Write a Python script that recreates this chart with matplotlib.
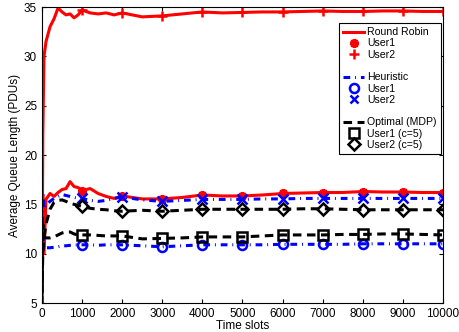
import numpy as np
import matplotlib
matplotlib.use("Agg")
import matplotlib.pyplot as plt
from matplotlib.lines import Line2D

plt.rcParams['font.family'] = ['Liberation Sans', 'DejaVu Sans']

# time grid of the running averages
t = [0, 20, 50, 100, 200, 300, 400, 500, 600, 700, 800, 900, 1000, 1200, 1400,
     1600, 1800, 2000, 2500, 3000, 3500, 4000, 4500, 5000, 5500, 6000, 6500,
     7000, 7500, 8000, 8500, 9000, 9500, 10000]

rr_user1 = [5, 16, 10, 15.5, 16.1, 15.8, 16.2, 16.5, 16.6, 17.3, 16.8, 16.7, 16.4,
            16.6, 16.1, 15.8, 15.6, 15.85, 15.55, 15.55, 15.7, 15.95, 15.85, 15.85,
            15.95, 16.1, 16.15, 16.2, 16.2, 16.3, 16.25, 16.25, 16.2, 16.2]
rr_user2 = [5, 22, 30, 31.5, 33.0, 33.8, 34.9, 34.5, 34.2, 34.3, 33.9, 34.2, 34.7,
            34.4, 34.3, 34.4, 34.2, 34.4, 34.0, 34.1, 34.3, 34.5, 34.4, 34.45,
            34.5, 34.5, 34.55, 34.6, 34.55, 34.55, 34.6, 34.6, 34.55, 34.55]
heu_user1 = [5, 12, 10.5, 10.6, 10.6, 10.65, 10.7, 10.8, 10.8, 10.85, 10.9, 10.9, 10.9,
             10.9, 10.85, 10.9, 10.9, 10.9, 10.8, 10.7, 10.8, 10.9, 10.9, 10.9,
             10.9, 10.95, 10.95, 10.95, 10.95, 11.0, 11.0, 11.0, 11.0, 11.0]
heu_user2 = [6, 16, 14.5, 15.0, 15.3, 15.6, 15.8, 16.0, 15.9, 15.8, 15.7, 15.6, 15.6,
             15.4, 15.3, 15.4, 15.6, 15.75, 15.45, 15.3, 15.4, 15.5, 15.5, 15.5,
             15.55, 15.55, 15.6, 15.6, 15.6, 15.6, 15.6, 15.6, 15.6, 15.6]
opt_user1 = [7, 13, 11.7, 11.6, 11.6, 11.7, 11.9, 12.1, 12.2, 12.2, 12.0, 11.9, 11.9,
             11.9, 11.85, 11.8, 11.8, 11.8, 11.5, 11.55, 11.6, 11.7, 11.7, 11.7,
             11.8, 11.9, 11.9, 11.9, 11.95, 11.95, 12.0, 12.0, 11.95, 11.9]
opt_user2 = [6, 10, 11.5, 13.0, 14.5, 15.2, 15.4, 15.45, 15.3, 15.1, 15.0, 14.9, 14.8,
             14.6, 14.5, 14.45, 14.35, 14.3, 14.4, 14.3, 14.4, 14.5, 14.5, 14.5,
             14.5, 14.5, 14.55, 14.55, 14.5, 14.45, 14.45, 14.45, 14.45, 14.45]

marker_t = [1000, 2000, 3000, 4000, 5000, 6000, 7000, 8000, 9000, 10000]

t = np.array(t)
mk = np.isin(t, marker_t)

fig = plt.figure(figsize=(4.59, 3.32), dpi=100)
ax = fig.add_axes([0.0915, 0.0873, 0.8736, 0.8916])

lw = 2.2
heu_dash = (2.2, 1.6, 0.3, 1.6)
opt_dash = (2.8, 1.8)
series = [
    (rr_user1, 'r', None, (8, 2, 0)),
    (rr_user2, 'r', None, '+'),
    (heu_user1, 'b', heu_dash, 'o'),
    (heu_user2, 'b', heu_dash, 'x'),
    (opt_user1, 'k', opt_dash, 's'),
    (opt_user2, 'k', opt_dash, 'D'),
]
for vals, c, dash, m in series:
    v = np.array(vals)
    ln, = ax.plot(t, v, color=c, lw=lw)
    if dash:
        ln.set_dashes(dash)
    ax.plot(t[mk], v[mk], ls='none', marker=m, ms=6.5, mec=c, mfc='none', mew=1.8)

ax.set_xlim(0, 10000)
ax.set_ylim(5, 35)
ax.set_xticks(np.arange(0, 10001, 1000))
ax.set_yticks(np.arange(5, 36, 5))
ax.tick_params(direction='in', top=True, right=True, labelsize=8.5, length=3)
ax.set_xlabel('Time slots', fontsize=8.5, labelpad=0)
ax.set_ylabel('Average Queue Length (PDUs)', fontsize=8.5, labelpad=2)

blank = Line2D([], [], ls='none')
handles = [
    Line2D([], [], color='r', ls='-', lw=lw),
    Line2D([], [], color='r', ls='none', marker=(8, 2, 0), ms=6.5, mew=1.8),
    Line2D([], [], color='r', ls='none', marker='+', ms=6.5, mew=1.8),
    blank,
    Line2D([], [], color='b', lw=lw, dashes=heu_dash),
    Line2D([], [], color='b', ls='none', marker='o', ms=6.5, mew=1.8, mfc='none'),
    Line2D([], [], color='b', ls='none', marker='x', ms=5.5, mew=1.8),
    blank,
    Line2D([], [], color='k', lw=lw, dashes=opt_dash),
    Line2D([], [], color='k', ls='none', marker='s', ms=6.5, mew=1.8, mfc='none'),
    Line2D([], [], color='k', ls='none', marker='D', ms=6.5, mew=1.8, mfc='none'),
]
labels = ['Round Robin', 'User1', 'User2', ' ', 'Heuristic', 'User1', 'User2', ' ',
          'Optimal (MDP)', 'User1 (c=5)', 'User2 (c=5)']
leg = ax.legend(handles, labels, loc='upper right', bbox_to_anchor=(0.995, 0.946),
                fontsize=7.6, fancybox=False, edgecolor='k', framealpha=1,
                handlelength=2.0, handletextpad=0.3, labelspacing=0.12,
                borderpad=0.4, borderaxespad=0)
leg.get_frame().set_linewidth(0.8)

fig.savefig('out.png', dpi=100)
